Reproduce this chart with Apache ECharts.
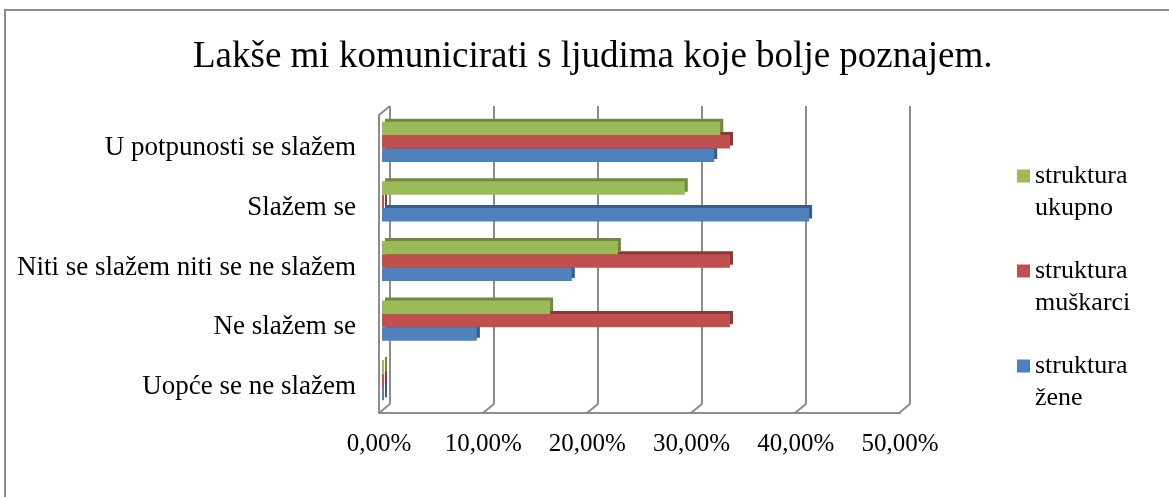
<!DOCTYPE html>
<html>
<head>
<meta charset="utf-8">
<script src="https://cdn.jsdelivr.net/npm/echarts@6/dist/echarts.min.js"></script>
<style>
  html, body { margin: 0; padding: 0; background: #fff; }
  #chart { width: 1169px; height: 497px; }
</style>
</head>
<body>
<div id="chart"></div>
<script>
// podaci procitani sa slike
const categories = ['U potpunosti se slažem', 'Slažem se', 'Niti se slažem niti se ne slažem', 'Ne slažem se', 'Uopće se ne slažem'];
const zene = [0.3182, 0.4091, 0.1818, 0.0909, 0];
const muskarci = [0.3333, 0, 0.3333, 0.3333, 0];
const ukupno = [0.324, 0.290, 0.226, 0.161, 0];
const ticks = [0, 0.1, 0.2, 0.3, 0.4, 0.5];

const font = 'Liberation Serif, Times New Roman, serif';
const frame = '#8c8c8c';

const pct = v => (v * 100).toFixed(2).replace('.', ',') + '%';

const bar3d = (color, side) => ({
  color: color,
  shadowColor: side,
  shadowBlur: 0,
  shadowOffsetX: 3,
  shadowOffsetY: -3
});

const chart = echarts.init(document.getElementById('chart'));

const option = {
  animation: false,
  title: {
    text: 'Lakše mi komunicirati s ljudima koje bolje poznajem.',
    left: 188,
    top: 34,
    textStyle: { fontFamily: font, fontSize: 37, fontWeight: 'normal', color: '#000' }
  },
  legend: {
    orient: 'vertical',
    left: 1017,
    top: 128,
    padding: 0,
    itemWidth: 13,
    itemHeight: 13,
    itemGap: -1,
    icon: 'rect',
    data: ['struktura\nukupno', 'struktura\nmuškarci', 'struktura\nžene'],
    // prazan prvi red da ikona stoji uz prvi red teksta
    formatter: name => '\n' + name,
    textStyle: { fontFamily: font, fontSize: 26, lineHeight: 32, color: '#000' }
  },
  graphic: [{
    type: 'rect',
    shape: { x: 5, y: 10, width: 1200, height: 600 },
    style: { fill: 'none', stroke: frame, lineWidth: 2 },
    silent: true
  }],
  grid: [
    // zadnji zid s mrezom
    { left: 390, top: 106, width: 520, height: 298 },
    // stupci
    { left: 382, top: 112, width: 522, height: 298 },
    // pod i lijevi zid
    { left: 379, top: 115, width: 521, height: 298 }
  ],
  xAxis: [
    {
      gridIndex: 0, type: 'value', min: 0, max: 0.5, interval: 0.1,
      axisLine: { show: false }, axisTick: { show: false }, axisLabel: { show: false },
      splitLine: { lineStyle: { color: frame, width: 2 } }
    },
    {
      gridIndex: 1, type: 'value', min: 0, max: 0.5, interval: 0.1, show: false
    },
    {
      gridIndex: 2, type: 'value', min: 0, max: 0.5, interval: 0.1,
      axisLine: { show: true, lineStyle: { color: frame, width: 2 } },
      axisTick: { show: false },
      splitLine: { show: false },
      axisLabel: { formatter: pct, margin: 19, fontFamily: font, fontSize: 25, color: '#000' }
    }
  ],
  yAxis: [
    { gridIndex: 0, type: 'value', min: 0, max: 1, show: false },
    {
      gridIndex: 1, type: 'category', data: categories, inverse: true,
      axisLine: { show: false }, axisTick: { show: false },
      axisLabel: {
        margin: 26,
        formatter: v => '{c|' + v + '}',
        rich: { c: { fontFamily: font, fontSize: 27, color: '#000', padding: [13, 0, 0, 0] } }
      }
    },
    {
      gridIndex: 2, type: 'value', min: 0, max: 1,
      axisLine: { show: true, lineStyle: { color: frame, width: 2 } },
      axisTick: { show: false }, axisLabel: { show: false }, splitLine: { show: false }
    }
  ],
  series: [
    {
      // kose crte izmedu zida i poda
      type: 'custom',
      xAxisIndex: 0, yAxisIndex: 0,
      silent: true,
      data: ticks.map(t => [t, 0]).concat([[0, 1]]),
      renderItem: (params, api) => {
        const p = api.coord([api.value(0), api.value(1)]);
        return {
          type: 'line',
          shape: { x1: p[0], y1: p[1], x2: p[0] - 11, y2: p[1] + 9 },
          style: { stroke: frame, lineWidth: 2 }
        };
      }
    },
    {
      name: 'struktura\nukupno', type: 'bar', xAxisIndex: 1, yAxisIndex: 1, z: 5,
      data: ukupno, barWidth: 13.4, barGap: '0%', barMinHeight: 2,
      itemStyle: bar3d('#9BBB59', '#71893F')
    },
    {
      name: 'struktura\nmuškarci', type: 'bar', xAxisIndex: 1, yAxisIndex: 1, z: 4,
      data: muskarci, barWidth: 13.4, barGap: '0%', barMinHeight: 2,
      itemStyle: bar3d('#C0504D', '#8C3836')
    },
    {
      name: 'struktura\nžene', type: 'bar', xAxisIndex: 1, yAxisIndex: 1, z: 3,
      data: zene, barWidth: 13.4, barGap: '0%', barMinHeight: 2,
      itemStyle: bar3d('#4F81BD', '#385D8A')
    }
  ]
};

option && chart.setOption(option);
</script>
</body>
</html>
